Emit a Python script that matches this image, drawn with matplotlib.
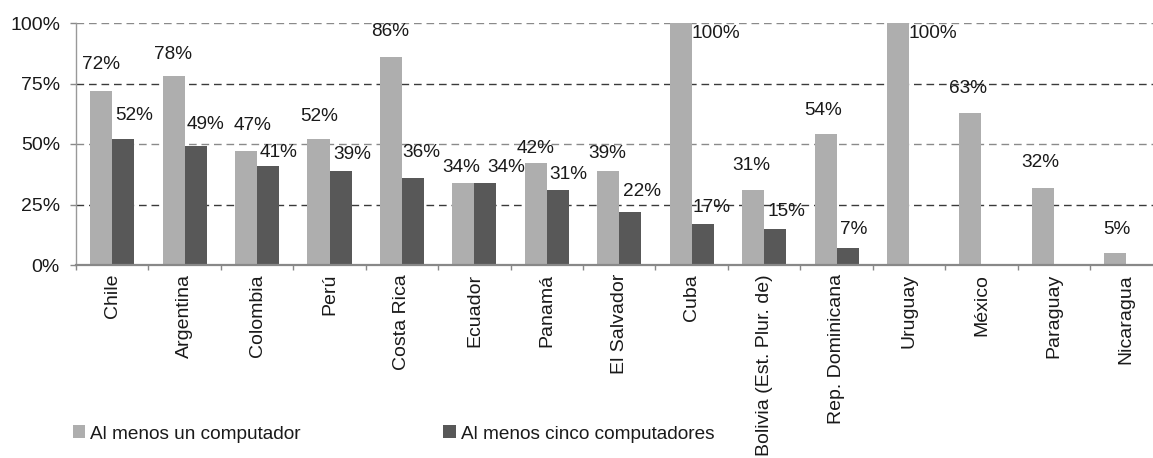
import matplotlib
matplotlib.use("Agg")
import matplotlib.pyplot as plt
from matplotlib.patches import Patch
import numpy as np

plt.rcParams['font.family'] = ['Liberation Sans', 'DejaVu Sans']

categories = ["Chile", "Argentina", "Colombia", "Perú", "Costa Rica", "Ecuador",
              "Panamá", "El Salvador", "Cuba", "Bolivia (Est. Plur. de)",
              "Rep. Dominicana", "Uruguay", "México", "Paraguay", "Nicaragua"]
al_menos_uno = [72, 78, 47, 52, 86, 34, 42, 39, 100, 31, 54, 100, 63, 32, 5]
al_menos_cinco = [52, 49, 41, 39, 36, 34, 31, 22, 17, 15, 7, None, None, None, None]
series_names = ["Al menos un computador", "Al menos cinco computadores"]
yticks = [0, 25, 50, 75, 100]

# label placement (pixels) - style only
light_dx = [0, -1, 6, 1, -1, -2, 0, -1, 0, -2, -2, 0, -2, -3, 2]
light_dy = [26, 22, 26, 23, 25, 15, 15, 17, 0, 24, 24, 0, 24, 25, 23]
dark_dx = [11, 10, 10, 12, 8, 21, 11, 12, 9, 11, 6]
dark_dy = [24, 22, 13, 16, 25, 15, 15, 20, 16, 17, 19]

LIGHT = '#aeaeae'
DARK = '#585858'
TXT = '#1a1a1a'
FS = 13.7
FS_TICK = 14
PX = 0.72  # points per pixel at 100 dpi

fig = plt.figure(figsize=(11.53, 4.58), dpi=100)
ax = fig.add_axes([76/1153, 1-265/458, (1162.5-76)/1153, (265-23)/458])

x = np.arange(len(categories))
bw = 0.304
ax.bar(x - bw/2, al_menos_uno, width=bw, color=LIGHT, zorder=3)
dark_idx = [i for i, v in enumerate(al_menos_cinco) if v is not None]
dark_vals = [al_menos_cinco[i] for i in dark_idx]
ax.bar(np.array(dark_idx) + bw/2, dark_vals, width=bw, color=DARK, zorder=3)

for i, v in enumerate(al_menos_uno):
    if v >= 100:
        ax.annotate(f"{v}%", (i, v), xytext=(0, -10*PX), textcoords='offset points',
                    ha='left', va='center', fontsize=FS, color=TXT, zorder=5)
    else:
        ax.annotate(f"{v}%", (i - bw/2, v), xytext=(light_dx[i]*PX, light_dy[i]*PX),
                    textcoords='offset points', ha='center', va='center',
                    fontsize=FS, color=TXT, zorder=5)
for k, i in enumerate(dark_idx):
    v = al_menos_cinco[i]
    ax.annotate(f"{v}%", (i + bw/2, v), xytext=(dark_dx[k]*PX, dark_dy[k]*PX),
                textcoords='offset points', ha='center', va='center',
                fontsize=FS, color=TXT, zorder=5)

ax.set_xlim(-0.5, len(categories) - 0.5)
ax.set_ylim(0, 100)
ax.set_yticks(yticks)
ax.set_yticklabels([f"{t}%" for t in yticks], fontsize=FS_TICK, color=TXT)
ax.tick_params(axis='y', length=6*PX, width=1, color='#888888', pad=10*PX)

ax.set_xticks(x)
ax.set_xticklabels(categories, rotation=90, fontsize=FS_TICK, color=TXT, va='top', ha='center')
ax.tick_params(axis='x', which='major', length=0, pad=9*PX)
ax.set_xticks(np.arange(len(categories) + 1) - 0.5, minor=True)
ax.tick_params(axis='x', which='minor', length=5*PX, width=1, color='#888888')

for t in yticks[1:]:
    col = '#3a3a3a' if t in (25, 75) else '#8a8a8a'
    ax.axhline(t, color=col, lw=1.0, linestyle=(0, (5.5, 3.5)), zorder=1)

for s in ['top', 'right']:
    ax.spines[s].set_visible(False)
ax.spines['left'].set_color('#999999')
ax.spines['left'].set_linewidth(1.0)
ax.spines['bottom'].set_color('#888888')
ax.spines['bottom'].set_linewidth(1.6)
ax.spines['bottom'].set_zorder(4)

handles = [Patch(facecolor=LIGHT, label=series_names[0]),
           Patch(facecolor=DARK, label=series_names[1])]
leg = fig.legend(handles=handles, loc='center left', bbox_to_anchor=(73/1153, 1-434/458),
                 ncol=2, frameon=False, fontsize=FS, handlelength=0.65, handleheight=0.65,
                 handletextpad=0.25, columnspacing=7.5, borderaxespad=0, borderpad=0)
for t in leg.get_texts():
    t.set_color(TXT)

fig.savefig("out.png", dpi=100)
